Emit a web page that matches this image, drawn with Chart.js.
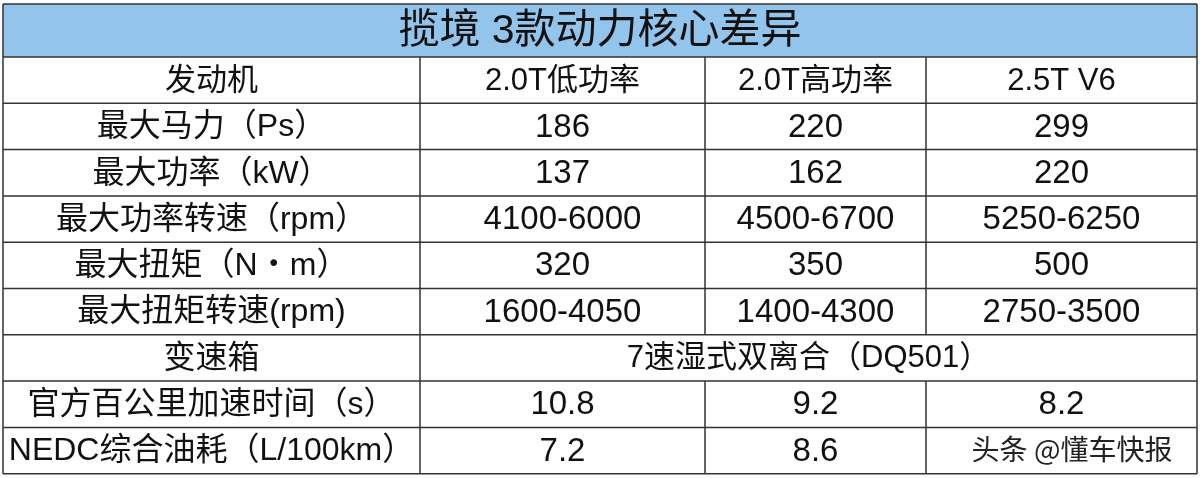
<!DOCTYPE html>
<html><head><meta charset="utf-8">
<script src="https://cdn.jsdelivr.net/npm/chart.js@4/dist/chart.umd.min.js"></script>
<style>html,body{margin:0;padding:0;background:#fff}#w{width:1200px;height:478px}</style>
</head><body><div id="w"><canvas id="c"></canvas></div>
<script>
const title = '揽境 3款动力核心差异';
const headers = ['发动机', '2.0T低功率', '2.0T高功率', '2.5T V6'];
const rowLabels = ['最大马力（Ps）', '最大功率（kW）', '最大功率转速（rpm）', '最大扭矩（N・m）', '最大扭矩转速(rpm)', '变速箱', '官方百公里加速时间（s）', 'NEDC综合油耗（L/100km）'];
const col1 = ['186', '137', '4100-6000', '320', '1600-4050', '7速湿式双离合（DQ501）', '10.8', '7.2'];
const col2 = ['220', '162', '4500-6700', '350', '1400-4300', null, '9.2', '8.6'];
const col3 = ['299', '220', '5250-6250', '500', '2750-3500', null, '8.2', ''];
const colEdges = [3, 420, 705, 926, 1197];
const rowEdges = [4, 57, 103.3, 149.6, 195.9, 242.2, 288.5, 334.8, 381.1, 427.4, 473.7];
const watermark = '头条 @懂车快报';

const tablePlugin = {
  id: 'table',
  afterDraw(chart) {
    const ctx = chart.ctx, X = chart.scales.x, Y = chart.scales.y;
    const px = v => X.getPixelForValue(v), py = v => Y.getPixelForValue(v);
    ctx.save();
    ctx.fillStyle = '#93c4ec';
    ctx.fillRect(px(colEdges[0]), py(rowEdges[0]), px(colEdges[4]) - px(colEdges[0]), py(rowEdges[1]) - py(rowEdges[0]));
    ctx.strokeStyle = '#333'; ctx.lineWidth = 1.5;
    ctx.beginPath();
    rowEdges.forEach(r => { ctx.moveTo(px(colEdges[0]), py(r)); ctx.lineTo(px(colEdges[4]), py(r)); });
    ctx.moveTo(px(colEdges[0]), py(rowEdges[0])); ctx.lineTo(px(colEdges[0]), py(rowEdges[10]));
    ctx.moveTo(px(colEdges[4]), py(rowEdges[0])); ctx.lineTo(px(colEdges[4]), py(rowEdges[10]));
    ctx.moveTo(px(colEdges[1]), py(rowEdges[1])); ctx.lineTo(px(colEdges[1]), py(rowEdges[10]));
    for (const c of [2, 3]) {
      ctx.moveTo(px(colEdges[c]), py(rowEdges[1])); ctx.lineTo(px(colEdges[c]), py(rowEdges[7]));
      ctx.moveTo(px(colEdges[c]), py(rowEdges[8])); ctx.lineTo(px(colEdges[c]), py(rowEdges[10]));
    }
    ctx.stroke();
    ctx.fillStyle = '#111'; ctx.textAlign = 'center'; ctx.textBaseline = 'middle';
    const cellText = (t, c0, c1, r, size) => {
      if (t == null || t === '') return;
      ctx.font = size + 'px "Liberation Sans", "Noto Sans CJK SC", sans-serif';
      ctx.fillText(t, (px(colEdges[c0]) + px(colEdges[c1])) / 2, (py(rowEdges[r]) + py(rowEdges[r + 1])) / 2 + 1);
    };
    cellText(title, 0, 4, 0, 41);
    headers.forEach((h, i) => cellText(h, i, i + 1, 1, 31));
    rowLabels.forEach((l, i) => {
      const r = i + 2;
      cellText(l, 0, 1, r, 32);
      if (col2[i] == null) cellText(col1[i], 1, 4, r, 31);
      else { cellText(col1[i], 1, 2, r, 33); cellText(col2[i], 2, 3, r, 33); cellText(col3[i], 3, 4, r, 33); }
    });
    ctx.fillStyle = '#222'; ctx.font = '28px "Noto Sans CJK SC", sans-serif';
    ctx.fillText(watermark, 1072, 449);
    ctx.restore();
  }
};

new Chart(document.getElementById('c'), {
  type: 'scatter',
  data: { datasets: [{ data: [], pointRadius: 0 }] },
  options: {
    responsive: true, maintainAspectRatio: false, animation: false,
    layout: { padding: 0 },
    plugins: { legend: { display: false }, tooltip: { enabled: false } },
    scales: {
      x: { type: 'linear', min: 0, max: 1200, display: false },
      y: { type: 'linear', min: 0, max: 478, reverse: true, display: false }
    }
  },
  plugins: [tablePlugin]
});
</script></body></html>
